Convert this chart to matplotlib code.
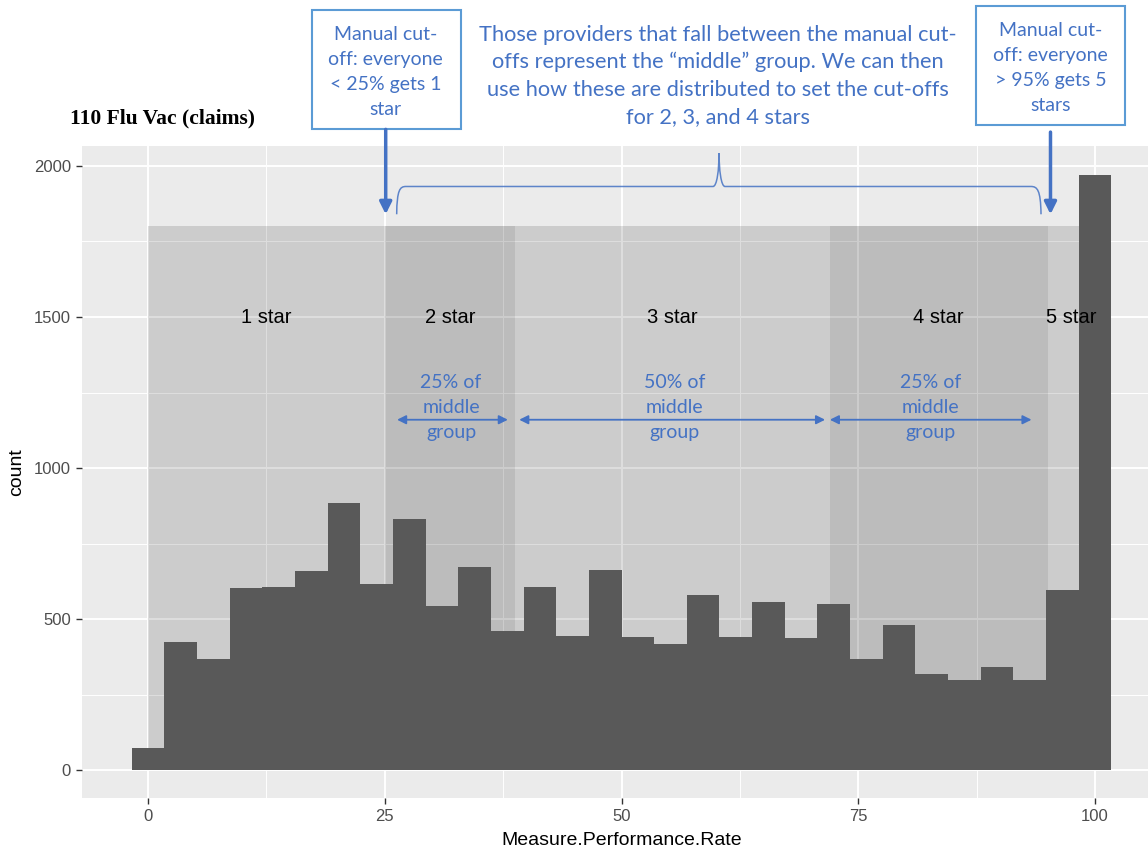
import numpy as np
import matplotlib.pyplot as plt
from matplotlib.patches import Rectangle, PathPatch
from matplotlib.path import Path

# histogram counts (30 bins over 0-100)
counts = [73, 423, 369, 603, 607, 659, 883, 616, 833, 545,
          671, 460, 607, 443, 661, 442, 418, 581, 442, 557,
          437, 549, 369, 481, 320, 298, 342, 298, 596, 1970]
n_bins = len(counts)
bin_width = 100 / (n_bins - 1)
centers = np.arange(n_bins) * bin_width

# star regions
region_edges = [0, 25, 38.8, 72, 95, 100]
region_labels = ['1 star', '2 star', '3 star', '4 star', '5 star']
region_dark = [False, True, False, True, False]
region_top = 1800
label_y = 1500

# "middle group" arrows
mid_spans = [(26.3, 38.0), (39.2, 71.5), (72.0, 93.3)]
mid_text = ['25% of\nmiddle\ngroup', '50% of\nmiddle\ngroup', '25% of\nmiddle\ngroup']
mid_x = [32.0, 55.6, 82.6]

blue = '#4472C4'
box_blue = '#5B9BD5'
blue_font = ['Lato', 'DejaVu Sans']
plt.rcParams['font.family'] = ['Liberation Sans', 'DejaVu Sans']

fig = plt.figure(figsize=(11.48, 8.52), dpi=100)
ax = fig.add_axes([82 / 1148, 1 - 798 / 852, (1161 - 82) / 1148, (798 - 146) / 852])
ax.set_xlim(-6.97, 106.97)
ax.set_ylim(-92, 2066)
ax.set_facecolor('#EBEBEB')
for s in ax.spines.values():
    s.set_visible(False)

ax.set_xticks([0, 25, 50, 75, 100])
ax.set_yticks([0, 500, 1000, 1500, 2000])
ax.set_xticks([12.5, 37.5, 62.5, 87.5], minor=True)
ax.set_yticks([250, 750, 1250, 1750], minor=True)
ax.grid(which='major', color='white', lw=1.4)
ax.grid(which='minor', color='white', lw=0.7)
ax.set_axisbelow(True)
ax.tick_params(which='major', length=4, width=1, color='#333333',
               labelcolor='#4D4D4D', labelsize=12, pad=4)
ax.tick_params(which='minor', length=0)

# shaded star regions
for i, lab in enumerate(region_labels):
    x0, x1 = region_edges[i], region_edges[i + 1]
    a = 0.195 if region_dark[i] else 0.13
    ax.add_patch(Rectangle((x0, 0), x1 - x0, region_top, facecolor='black',
                           alpha=a, lw=0, zorder=1))
    ax.text((x0 + x1) / 2, label_y, lab, ha='center', va='center',
            fontsize=14.5, color='black', zorder=4)

ax.bar(centers, counts, width=bin_width, color='#595959', lw=0, zorder=3)

ax.set_xlabel('Measure.Performance.Rate', fontsize=14, labelpad=6)
ax.set_ylabel('count', fontsize=14, labelpad=6)

# middle group arrows and text
for (a0, a1), t, x in zip(mid_spans, mid_text, mid_x):
    ax.annotate('', xy=(a1, 1160), xytext=(a0, 1160),
                arrowprops=dict(arrowstyle='<|-|>', color=blue, lw=1.3,
                                mutation_scale=13, shrinkA=0, shrinkB=0), zorder=5)
    ax.text(x, 1200, t, ha='center', va='center', color=blue, fontsize=14,
            family=blue_font, linespacing=1.55, zorder=5)

# title
fig.text(70 / 1148, 1 - 118 / 852, '110 Flu Vac (claims)', fontsize=15.5,
         fontweight='bold', family=['Liberation Serif', 'DejaVu Serif'],
         ha='left', va='center')

# top annotation
ax.text(60.2, 2298, 'Those providers that fall between the manual cut-\n'
        'offs represent the \u201cmiddle\u201d group. We can then\n'
        'use how these are distributed to set the cut-offs\n'
        'for 2, 3, and 4 stars', ha='center', va='center', color=blue,
        fontsize=15.7, family=blue_font, linespacing=1.46, clip_on=False)

# boxes with the manual cut-offs
ax.add_patch(Rectangle((17.3, 2121), 15.8, 395, fill=False, edgecolor=box_blue,
                       lw=1.5, clip_on=False))
ax.text(25.1, 2310, 'Manual cut-\noff: everyone\n< 25% gets 1\nstar', ha='center',
        va='center', color=blue, fontsize=14, family=blue_font,
        linespacing=1.58, clip_on=False)
ax.add_patch(Rectangle((87.4, 2135), 15.8, 395, fill=False, edgecolor=box_blue,
                       lw=1.5, clip_on=False))
ax.text(95.3, 2324, 'Manual cut-\noff: everyone\n> 95% gets 5\nstars', ha='center',
        va='center', color=blue, fontsize=14, family=blue_font,
        linespacing=1.58, clip_on=False)

for x, y0 in [(25.1, 2121), (95.3, 2112)]:
    ax.annotate('', xy=(x, 1840), xytext=(x, y0), annotation_clip=False,
                arrowprops=dict(arrowstyle='-|>', color=blue, lw=2.5,
                                mutation_scale=18, shrinkA=0, shrinkB=0))

# curly brace over the middle group
verts = [(26.26, 1840), (26.29, 1922), (26.61, 1932), (27.24, 1932),
         (59.66, 1932),
         (60.09, 1932), (60.30, 1989), (60.30, 2042),
         (60.30, 1989), (60.51, 1932), (60.93, 1932),
         (93.24, 1932),
         (93.88, 1932), (94.27, 1922), (94.30, 1840)]
codes = [Path.MOVETO, Path.CURVE4, Path.CURVE4, Path.CURVE4,
         Path.LINETO,
         Path.CURVE4, Path.CURVE4, Path.CURVE4,
         Path.CURVE4, Path.CURVE4, Path.CURVE4,
         Path.LINETO,
         Path.CURVE4, Path.CURVE4, Path.CURVE4]
ax.add_patch(PathPatch(Path(verts, codes), fill=False, edgecolor=blue, lw=1.1,
                       alpha=0.85, clip_on=False, zorder=5))

fig.savefig('out.png', dpi=100)
